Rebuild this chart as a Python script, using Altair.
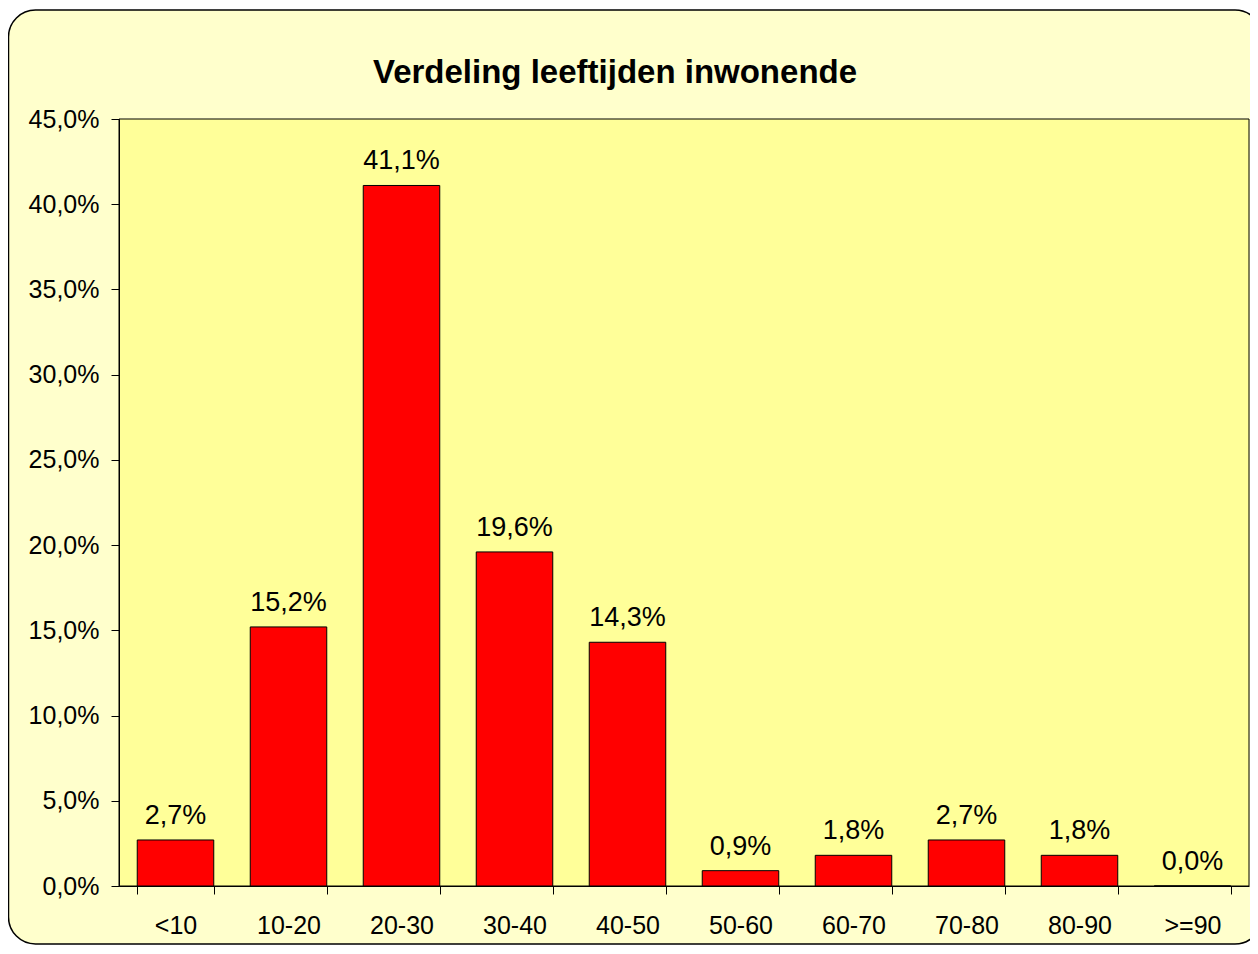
import altair as alt
import pandas as pd

categories = ["<10", "10-20", "20-30", "30-40", "40-50", "50-60", "60-70", "70-80", "80-90", ">=90"]
values = [0.027, 0.152, 0.411, 0.196, 0.143, 0.009, 0.018, 0.027, 0.018, 0.0]
value_labels = ["2,7%", "15,2%", "41,1%", "19,6%", "14,3%", "0,9%", "1,8%", "2,7%", "1,8%", "0,0%"]
y_ticks = [0.0, 0.05, 0.10, 0.15, 0.20, 0.25, 0.30, 0.35, 0.40, 0.45]
title_text = "Verdeling leeftijden inwonende"

FONT = "Liberation Sans, Arial, sans-serif"
W, H = 1130, 767

df = pd.DataFrame({"cat": categories, "val": values, "lab": value_labels})
one = pd.DataFrame({"a": [0]})

outer = alt.Chart(one).mark_rect(
    fill="#FFFFCC", stroke="black", strokeWidth=1.5, cornerRadius=27
).encode(
    x=alt.value(-110.5), x2=alt.value(1143), y=alt.value(-109), y2=alt.value(825)
)

plotbg = alt.Chart(one).mark_rect(
    fill="#FFFF99", stroke="black", strokeWidth=1
).encode(
    x=alt.value(0), x2=alt.value(W), y=alt.value(0), y2=alt.value(H)
)

title = alt.Chart(one).mark_text(
    text=title_text, font=FONT, fontSize=33, fontWeight="bold",
    align="center", baseline="alphabetic", color="black"
).encode(x=alt.value(496), y=alt.value(-36))

xenc = alt.X(
    "cat:N", sort=categories, title=None,
    scale=alt.Scale(paddingInner=0.323, paddingOuter=0.1615),
    axis=alt.Axis(
        labelAngle=0, labelFont=FONT, labelFontSize=25, labelColor="black",
        labelBaseline="middle", labelPadding=31,
        tickBand="extent", tickSize=8, tickColor="black", domainColor="black",
        domainWidth=1, tickWidth=1, grid=False, zindex=1, labelFlush=False,
    ),
)
yenc = alt.Y(
    "val:Q", title=None,
    scale=alt.Scale(domain=[0, 0.45], nice=False, zero=True),
    axis=alt.Axis(
        values=y_ticks, labelExpr="replace(format(datum.value, '.1%'), '.', ',')",
        labelFont=FONT, labelFontSize=25, labelColor="black", labelPadding=12,
        tickSize=8, tickColor="black", domainColor="black", domainWidth=1,
        tickWidth=1, grid=False, zindex=1, labelFlush=False,
    ),
)

bars = alt.Chart(df).mark_bar(
    color="#FF0000", stroke="black", strokeWidth=1
).encode(x=xenc, y=yenc)

texts = alt.Chart(df).mark_text(
    font=FONT, fontSize=27, color="black", baseline="alphabetic", dy=-16
).encode(
    x=alt.X("cat:N", sort=categories),
    y=alt.Y("val:Q"),
    text="lab:N",
)

chart = alt.layer(outer, plotbg, title, bars, texts).properties(
    width=W, height=H,
    padding={"left": 111, "top": 111, "right": 1, "bottom": 60},
    autosize=alt.AutoSizeParams(type="none"),
    background="white",
).configure_view(stroke=None)

chart.save("out.html", embed_options={"renderer": "svg", "actions": False})
